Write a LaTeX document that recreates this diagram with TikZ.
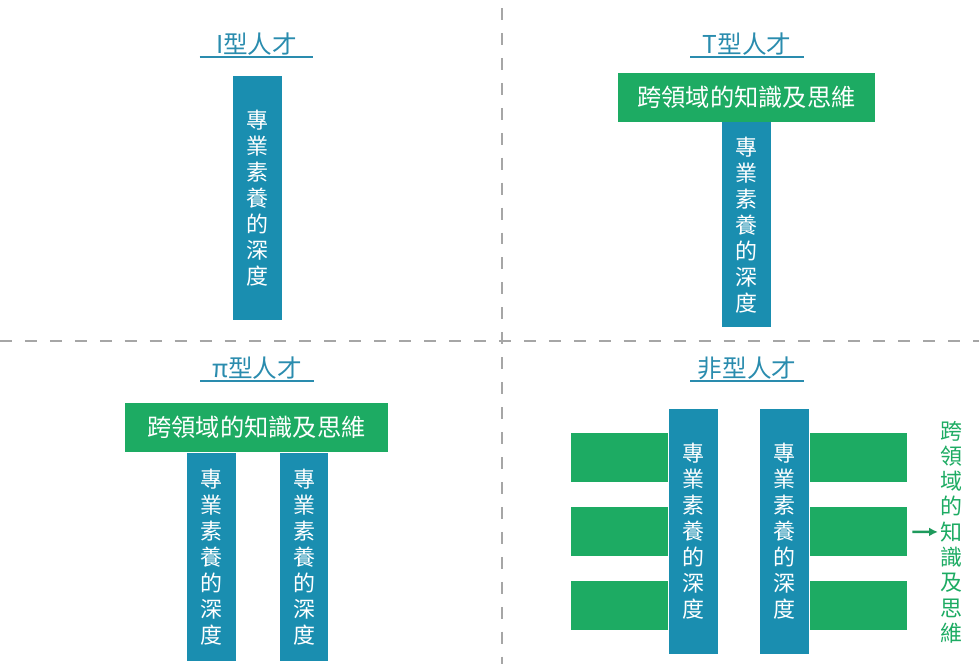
\documentclass[tikz,border=0pt]{standalone}
\usepackage{fontspec}
\setmainfont{Noto Sans CJK TC}
\usepackage{xcolor}
\definecolor{talentBlue}{HTML}{1A8EB0}
\definecolor{talentGreen}{HTML}{1DAB63}
\definecolor{talentTitle}{HTML}{2A8CAE}
\definecolor{talentArrow}{HTML}{1E9A5C}
\definecolor{talentGrid}{HTML}{A6A6A6}
\usepackage{tikz}
\usetikzlibrary{arrows.meta,positioning}
\tikzset{
    depthbar/.style={
        fill=talentBlue,
        rectangle,
        inner sep=0pt,
        align=center,
        minimum width=0.98cm,
        text=white,
        font=\fontsize{12.5}{14.8}\selectfont
    },
    breadthbar/.style={
        fill=talentGreen,
        rectangle,
        inner sep=0pt,
        minimum height=0.98cm,
        text=white,
        font=\fontsize{13.8}{16}\selectfont
    },
    title/.style={
        rectangle,
        inner sep=0pt,
        minimum width=2.26cm,
        minimum height=0.5cm,
        text=talentTitle,
        font=\fontsize{14}{16}\selectfont
    },
    uline/.style={
        line width=1pt,
        color=talentTitle
    },
    grid/.style={
        line width=0.8pt,
        color=talentGrid,
        dash pattern=on 6.8pt off 7.4pt
    },
    arrow/.style={
        -{Latex[length=5pt,width=5pt]},
        line width=1.4pt,
        color=talentArrow
    }
}

\begin{document}
\begin{tikzpicture}[x=0.02cm, y=-0.02cm]
    \useasboundingbox (0,0) rectangle (979,664);

    % Quadrant separators
    \draw[grid] (502,8) -- (502,664);
    \draw[grid] (0,341) -- (979,341);

    % I type
    \node[title] (t-i) at (256.5,44) {I型人才};
    \node[depthbar, minimum height=4.88cm] (i-d) at (257,198) {專\\業\\素\\養\\的\\深\\度};

    % T type
    \node[title] (t-t) at (747,44) {T型人才};
    \node[breadthbar, minimum width=5.14cm] (t-x) at (746.5,97) {跨領域的知識及思維};
    \node[depthbar, minimum height=4.1cm, below=0pt of t-x] (t-d) {專\\業\\素\\養\\的\\深\\度};

    % Pi type
    \node[title] (t-pi) at (257,368) {π型人才};
    \node[breadthbar, minimum width=5.26cm] (pi-x) at (256.5,427.5) {跨領域的知識及思維};
    \node[depthbar, minimum height=4.16cm, below=0pt of pi-x, xshift=-0.91cm] (pi-d1) {專\\業\\素\\養\\的\\深\\度};
    \node[depthbar, minimum height=4.16cm, below=0pt of pi-x, xshift=0.95cm] (pi-d2) {專\\業\\素\\養\\的\\深\\度};

    % Fei type
    \node[title] (t-fei) at (747,368) {非型人才};
    \node[depthbar, minimum height=4.9cm] (fei-d1) at (693,531.5) {專\\業\\素\\養\\的\\深\\度};
    \node[depthbar, minimum height=4.9cm] (fei-d2) at (784.5,531.5) {專\\業\\素\\養\\的\\深\\度};
    \node[breadthbar, minimum width=1.94cm, left=0pt of fei-d1, yshift=1.48cm] (fei-l1) {};
    \node[breadthbar, minimum width=1.94cm, left=0pt of fei-d1] (fei-l2) {};
    \node[breadthbar, minimum width=1.94cm, left=0pt of fei-d1, yshift=-1.48cm] (fei-l3) {};
    \node[breadthbar, minimum width=1.94cm, right=0pt of fei-d2, yshift=1.48cm] (fei-r1) {};
    \node[breadthbar, minimum width=1.94cm, right=0pt of fei-d2] (fei-r2) {};
    \node[breadthbar, minimum width=1.94cm, right=0pt of fei-d2, yshift=-1.48cm] (fei-r3) {};
    \node[align=center, inner sep=0pt, text=talentGreen, font=\fontsize{12.5}{14.4}\selectfont] (fei-note) at (951,532) {跨\\領\\域\\的\\知\\識\\及\\思\\維};

    % Title underlines
    \foreach \t in {t-i,t-t,t-pi,t-fei}
        \draw[uline] (\t.south west) -- (\t.south east);

    % Connections
    \draw[arrow, shorten <=3pt, shorten >=1pt] (fei-r2) -- (fei-note);
\end{tikzpicture}
\end{document}
